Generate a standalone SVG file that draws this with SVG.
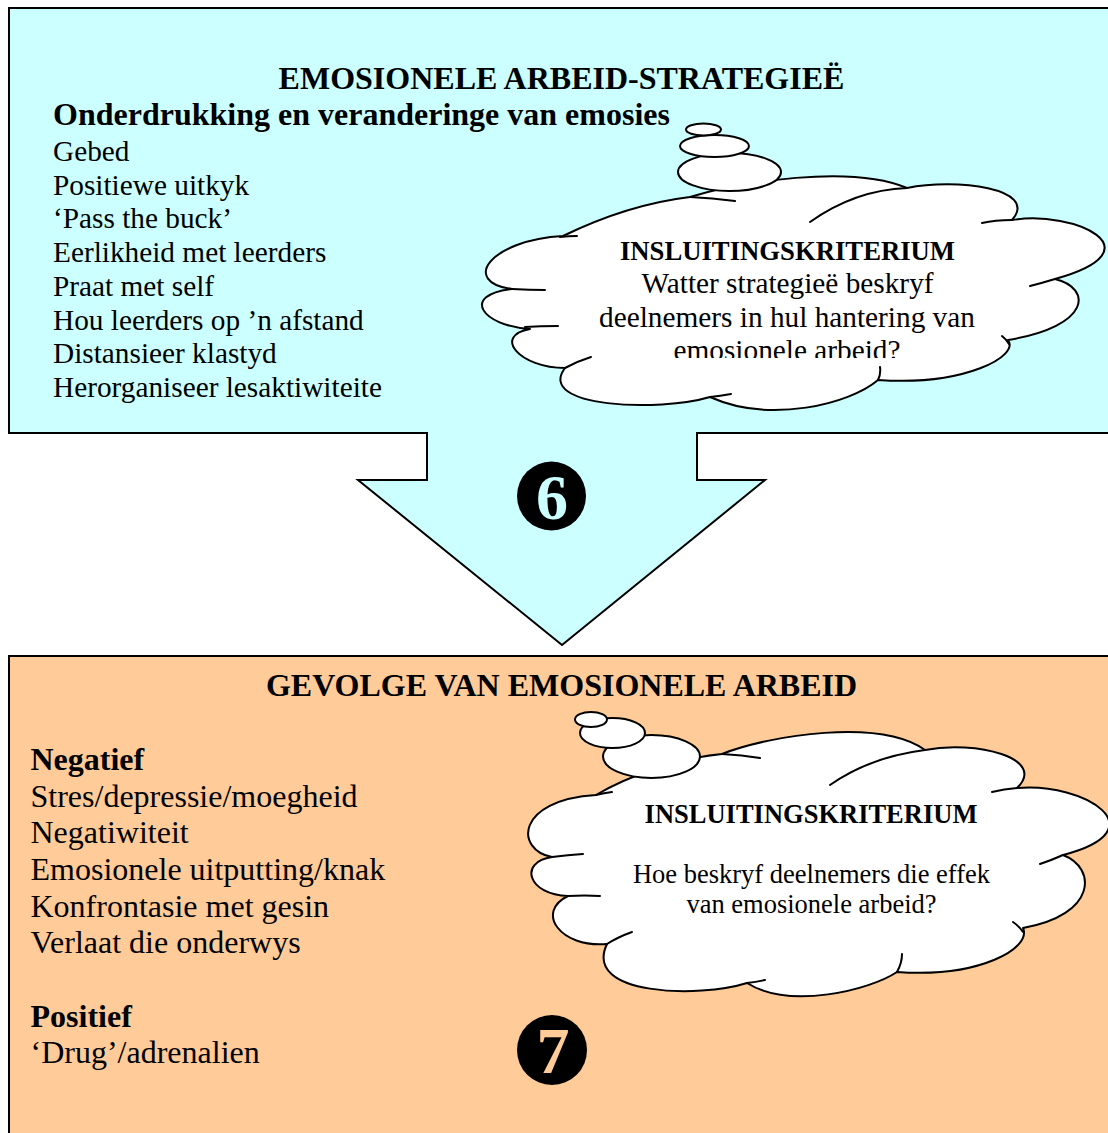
<svg xmlns="http://www.w3.org/2000/svg" width="1108" height="1133" viewBox="0 0 1108 1133">
<style>
  .box { stroke: #000; stroke-width: 2; }
  .cyan { fill: #CCFFFF; }
  .peach { fill: #FFCC99; }
  .cloud { fill: #fff; stroke: #000; stroke-width: 2; stroke-linejoin: round; }
  .tail { fill: none; stroke: #000; stroke-width: 2; stroke-linecap: round; }
  .t { font-family: "Liberation Serif", "Times New Roman", serif; fill: #000; }
  .b { font-weight: bold; }
  .mid { text-anchor: middle; }
  .outline { fill: none; stroke: #000; stroke-width: 2; stroke-linejoin: miter; }
</style>
<defs>
  <clipPath id="clipLast"><rect x="480" y="100" width="640" height="258"/></clipPath>
</defs>

<g id="top-box">
  <rect class="box cyan" x="9" y="8" width="1120" height="425"/>
  <text class="t b mid" x="561.5" y="89" font-size="32">EMOSIONELE ARBEID-STRATEGIEË</text>
  <text class="t b" x="53" y="125" font-size="32">Onderdrukking en veranderinge van emosies</text>
  <g class="t" font-size="29.3">
    <text x="53" y="161">Gebed</text>
    <text x="53" y="194.5">Positiewe uitkyk</text>
    <text x="53" y="228">‘Pass the buck’</text>
    <text x="53" y="262">Eerlikheid met leerders</text>
    <text x="53" y="295.5">Praat met self</text>
    <text x="53" y="329.5">Hou leerders op ’n afstand</text>
    <text x="53" y="363">Distansieer klastyd</text>
    <text x="53" y="397">Herorganiseer lesaktiwiteite</text>
  </g>
</g>

<g id="bottom-box">
  <rect class="box peach" x="9" y="656" width="1120" height="500"/>
  <text class="t b mid" x="561.5" y="696" font-size="32">GEVOLGE VAN EMOSIONELE ARBEID</text>
  <text class="t b" x="30.5" y="770" font-size="32">Negatief</text>
  <g class="t" font-size="32">
    <text x="30.5" y="806.5">Stres/depressie/moegheid</text>
    <text x="30.5" y="843.3">Negatiwiteit</text>
    <text x="30.5" y="880">Emosionele uitputting/knak</text>
    <text x="30.5" y="916.7">Konfrontasie met gesin</text>
    <text x="30.5" y="953.3">Verlaat die onderwys</text>
  </g>
  <text class="t b" x="30.5" y="1026.7" font-size="32">Positief</text>
  <text class="t" x="30.5" y="1063.3" font-size="32">‘Drug’/adrenalien</text>
</g>

<g id="connectors">
  <g id="arrow-6">
    <path class="cyan" d="M427,430 L427,480 L358,480 L562,645 L765,480 L697,480 L697,430 Z"/>
    <path class="outline" d="M427,432 L427,480 L358,480 L562,645 L765,480 L697,480 L697,432"/>
  </g>
</g>

<g id="badge-6">
  <circle cx="551.5" cy="496" r="34.5" fill="#000"/>
  <text class="t b mid" x="552" y="519" font-size="64" fill="#CCFFFF" style="fill:#CCFFFF">6</text>
</g>

<g id="badge-7">
  <circle cx="552" cy="1050" r="35" fill="#000"/>
  <text class="t b mid" x="553" y="1073" font-size="66" style="fill:#FFCC99">7</text>
</g>

<g id="cloud-1">
  <path class="cloud" d="M563,236 C600,218 640,203 690,197 C740,182 850,164 907,188 C955,178 1040,188 1012,220 C1075,210 1160,250 1055,279 C1092,288 1092,326 1008,340 C1020,356 965,386 878,380 C850,404 770,424 710,397 C660,412 535,408 565,368 C520,368 492,336 530,329 C482,326 460,295 512,289 C460,282 490,240 563,236 Z"/>
  <path class="tail" d="M560,237 Q568,236 577,236 M690,197 Q712,198 735,201 M907,188 Q855,190 810,222 M1012,220 Q995,220 982,223 M1055,279 Q1042,283 1030,286 M1009,344 Q1006,339 1002,336 M878,380 Q881,374 880,367 M710,397 Q720,396 731,394 M565,368 Q578,361 591,357 M525,327 Q540,326 558,326 M512,289 Q530,290 545,290"/>
  <ellipse class="cloud" cx="729.5" cy="172" rx="51.5" ry="19"/>
  <ellipse class="cloud" cx="714.5" cy="146" rx="34.5" ry="11"/>
  <ellipse class="cloud" cx="703.5" cy="129.5" rx="17.5" ry="6"/>
  <text class="t b mid" x="787.5" y="259.5" font-size="26.7">INSLUITINGSKRITERIUM</text>
  <g class="t mid" font-size="29.3">
    <text x="787.5" y="293">Watter strategieë beskryf</text>
    <text x="787" y="326.5">deelnemers in hul hantering van</text>
    <text x="787" y="360" clip-path="url(#clipLast)">emosionele arbeid?</text>
  </g>
</g>

<g id="cloud-2">
  <path class="cloud" d="M596,795 C630,775 680,758 722,754 C770,735 880,718 925,750 C975,740 1048,758 1017,788 C1085,782 1160,830 1063,855 C1097,868 1097,915 1023,928 C1032,948 980,978 897,972 C870,990 790,1010 747,983 C700,998 582,996 607,944 C560,948 535,912 568,896 C528,895 518,862 552,857 C515,850 515,800 596,795 Z"/>
  <path class="tail" d="M596,795 Q604,793 612,792 M722,754 Q742,755 760,758 M925,750 Q870,757 830,785 M1017,788 Q1004,789 992,792 M1063,855 Q1052,860 1040,864 M1023,932 Q1019,926 1013,922 M897,972 Q902,963 902,954 M747,983 Q756,982 765,980 M607,944 Q618,937 632,932 M568,896 Q585,895 600,896 M552,857 Q568,855 583,854"/>
  <ellipse class="cloud" cx="651.5" cy="756.5" rx="48.5" ry="21.5"/>
  <ellipse class="cloud" cx="612.5" cy="733" rx="32.5" ry="15"/>
  <ellipse class="cloud" cx="591" cy="719.5" rx="16" ry="7.5"/>
  <text class="t b mid" x="811" y="823" font-size="26.5">INSLUITINGSKRITERIUM</text>
  <g class="t mid" font-size="26.5">
    <text x="811.5" y="883">Hoe beskryf deelnemers die effek</text>
    <text x="811.5" y="913">van emosionele arbeid?</text>
  </g>
</g>
</svg>
